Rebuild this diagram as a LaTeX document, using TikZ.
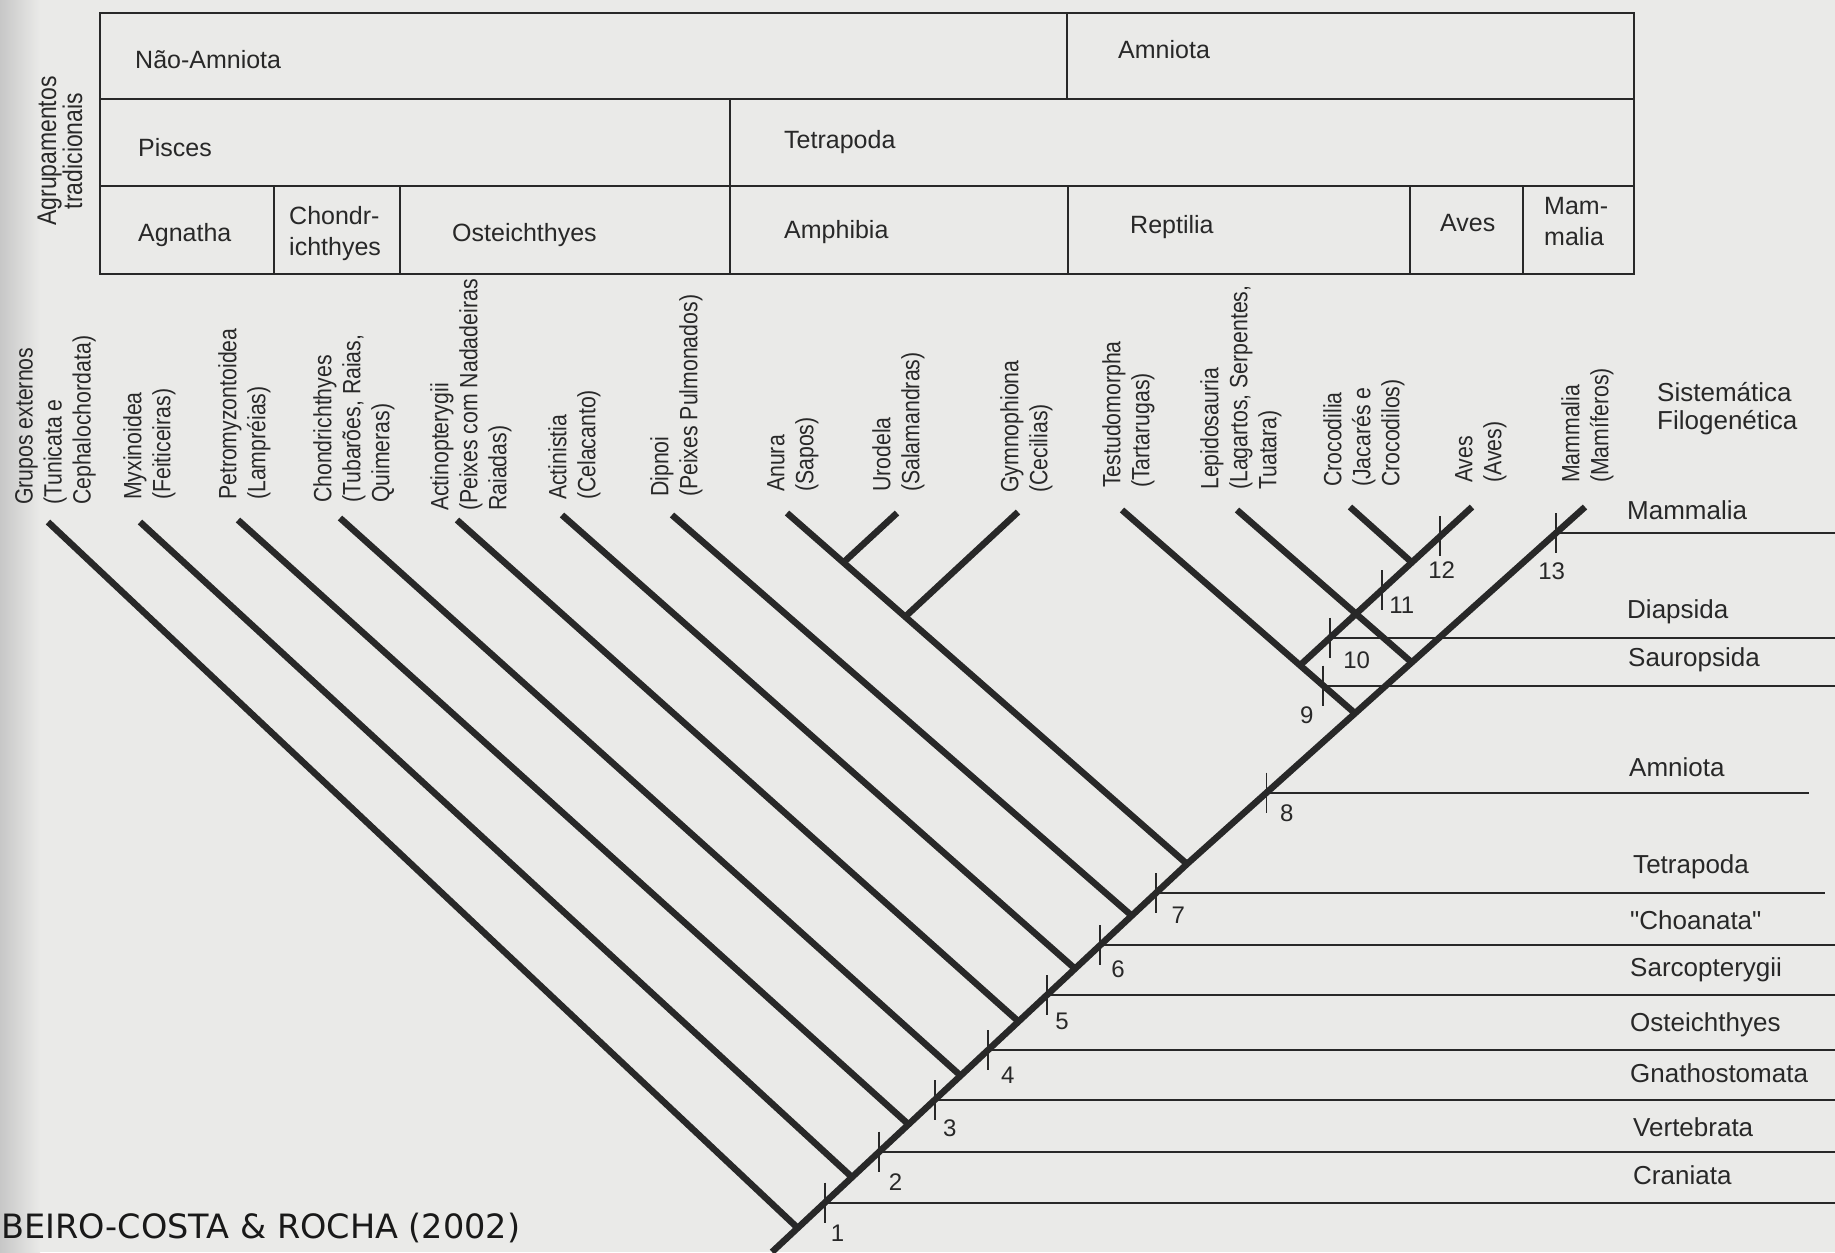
\documentclass[tikz,border=0pt]{standalone}
\usepackage{fontspec}
\setmainfont{Liberation Sans}
\newfontfamily\taxfont[FakeStretch=0.85]{Liberation Sans}
\newfontfamily\citefont{DejaVu Sans}
\usetikzlibrary{calc}

\definecolor{paper}{RGB}{234,234,232}
\definecolor{ink}{RGB}{40,40,40}

\begin{document}
\begin{tikzpicture}[x=1pt,y=-1pt,
  branchline/.style={draw=ink, line width=6.5pt},
  grpline/.style={draw=ink, line width=2pt},
  tickmark/.style={draw=ink, line width=1.8pt},
  tablerule/.style={draw=ink, line width=2.8pt},
  cell/.style={anchor=west, inner sep=0pt, text=ink, align=left, font=\fontsize{25}{31}\selectfont},
  taxon/.style={rotate=90, anchor=north west, inner sep=0pt, align=left, text=ink, font=\taxfont\fontsize{25}{29}\selectfont},
  clade/.style={anchor=west, inner sep=0pt, text=ink, align=left, font=\fontsize{26}{28}\selectfont},
  num/.style={inner sep=0pt, text=ink, font=\fontsize{24}{24}\selectfont}]

	\fill[paper] (0,0) rectangle (1835,1252);
	\useasboundingbox (0,0) rectangle (1835,1252);
	\shade[left color=black!22, right color=paper] (0,0) rectangle (40,1252);

	% traditional groupings
	\draw[tablerule] (100,13) rectangle (1634,274);
	\draw[tablerule] (100,99) -- (1634,99);
	\draw[tablerule] (100,186) -- (1634,186);
	\draw[tablerule] (1067,13) -- (1067,99);
	\draw[tablerule] (730,99) -- (730,274);
	\foreach \xx in {274,400,1068,1410,1523}
		\draw[tablerule] (\xx,186) -- (\xx,274);

	\node[rotate=90, inner sep=0pt, align=center, text=ink, font=\taxfont\fontsize{27}{24}\selectfont] (agrup) at (60,151) {Agrupamentos\\tradicionais};

	\node[cell] (naoamniota) at (135,60) {Não-Amniota};
	\node[cell] (amniota-t) at (1118,50) {Amniota};
	\node[cell] (pisces) at (138,148) {Pisces};
	\node[cell] (tetrapoda-t) at (784,142) {Tetrapoda};
	\node[cell] (agnatha) at (138,235) {Agnatha};
	\node[cell] (chondr-t) at (289,234) {Chondr-\\ichthyes};
	\node[cell] (osteich-t) at (452,235) {Osteichthyes};
	\node[cell] (amphibia) at (784,232) {Amphibia};
	\node[cell] (reptilia) at (1130,227) {Reptilia};
	\node[cell] (aves-t) at (1440,223) {Aves};
	\node[cell] (mammalia-t) at (1544,222) {Mam-\\malia};

	% terminal taxa
	\node[taxon] (lab-out) at (15,505) {Grupos externos\\(Tunicata e\\Cephalochordata)};
	\node[taxon] (lab-myx) at (123,500) {Myxinoidea\\(Feiticeiras)};
	\node[taxon] (lab-pet) at (218,500) {Petromyzontoidea\\(Lampréias)};
	\node[taxon] (lab-cho) at (313,503) {Chondrichthyes\\(Tubarões, Raias,\\Quimeras)};
	\node[taxon] (lab-act) at (430,511) {Actinopterygii\\(Peixes com Nadadeiras\\Raiadas)};
	\node[taxon] (lab-cel) at (548,500) {Actinistia\\(Celacanto)};
	\node[taxon] (lab-dip) at (650,497) {Dipnoi\\(Peixes Pulmonados)};
	\node[taxon] (lab-anu) at (767,492) {Anura\\(Sapos)};
	\node[taxon] (lab-uro) at (872,492) {Urodela\\(Salamandras)};
	\node[taxon] (lab-gym) at (1000,493) {Gymnophiona\\(Cecilias)};
	\node[taxon] (lab-tes) at (1102,488) {Testudomorpha\\(Tartarugas)};
	\node[taxon] (lab-lep) at (1200,490) {Lepidosauria\\(Lagartos, Serpentes,\\Tuatara)};
	\node[taxon] (lab-cro) at (1323,487) {Crocodilia\\(Jacarés e\\Crocodilos)};
	\node[taxon] (lab-ave) at (1455,483) {Aves\\(Aves)};
	\node[taxon] (lab-mam) at (1561,483) {Mammalia\\(Mamíferos)};

	% branch tips
	\coordinate (tip-out) at (48,522);
	\coordinate (tip-myx) at (140,522);
	\coordinate (tip-pet) at (238,520);
	\coordinate (tip-cho) at (340,518);
	\coordinate (tip-act) at (457,520);
	\coordinate (tip-cel) at (562,515);
	\coordinate (tip-dip) at (672,515);
	\coordinate (tip-anu) at (787,513);
	\coordinate (tip-uro) at (897,513);
	\coordinate (tip-gym) at (1018,512);
	\coordinate (tip-tes) at (1122,510);
	\coordinate (tip-lep) at (1237,510);
	\coordinate (tip-cro) at (1350,507);
	\coordinate (tip-ave) at (1472,507);
	\coordinate (tip-mam) at (1585,507);

	% backbone points
	\coordinate (base) at (772,1252);
	\coordinate (n1) at (797.7,1228);
	\coordinate (n2) at (852,1177.2);
	\coordinate (n3) at (908.5,1124.4);
	\coordinate (n4) at (960.6,1075.7);
	\coordinate (n5) at (1018.5,1021.5);
	\coordinate (n6) at (1075,968.7);
	\coordinate (n7) at (1131.7,915.7);
	\coordinate (ntet) at (1187,864);
	\coordinate (namn) at (1355,713.3);
	\coordinate (nlep) at (1411.7,662.4);

	\coordinate (t1) at (824.7,1202.7);
	\coordinate (t2) at (879.3,1151.7);
	\coordinate (t3) at (934.6,1100);
	\coordinate (t4) at (988,1050);
	\coordinate (t5) at (1046.9,995);
	\coordinate (t6) at (1100.3,945);
	\coordinate (t7) at (1155.6,893.3);
	\coordinate (t8) at (1266.5,792.7);
	\coordinate (t13) at (1555.7,533.3);

	\coordinate (nuro) at ($(tip-anu)!0.141!(ntet)$);
	\coordinate (ngym) at ($(tip-anu)!0.2955!(ntet)$);
	\coordinate (nsau) at ($(tip-tes)!0.764!(namn)$);
	\coordinate (t9) at ($(tip-tes)!0.864!(namn)$);
	\coordinate (t10) at ($(nsau)!0.174!(tip-ave)$);
	\coordinate (t11) at ($(nsau)!0.475!(tip-ave)$);
	\coordinate (ncro) at ($(nsau)!0.65!(tip-ave)$);
	\coordinate (t12) at ($(nsau)!0.814!(tip-ave)$);

	\coordinate (edge) at (1835,0);
	\coordinate (edge-amn) at (1809,0);
	\coordinate (edge-tet) at (1825,0);

	% cladogram
	\draw[branchline] (base) -- (ntet) -- (tip-mam);
	\draw[branchline] (tip-out) -- (n1);
	\draw[branchline] (tip-myx) -- (n2);
	\draw[branchline] (tip-pet) -- (n3);
	\draw[branchline] (tip-cho) -- (n4);
	\draw[branchline] (tip-act) -- (n5);
	\draw[branchline] (tip-cel) -- (n6);
	\draw[branchline] (tip-dip) -- (n7);
	\draw[branchline] (tip-anu) -- (ntet);
	\draw[branchline] (tip-uro) -- (nuro);
	\draw[branchline] (tip-gym) -- (ngym);
	\draw[branchline] (tip-tes) -- (namn);
	\draw[branchline] (nsau) -- (tip-ave);
	\draw[branchline] (tip-cro) -- (ncro);
	\draw[branchline] (tip-lep) -- (nlep);

	% groups of phylogenetic systematics
	\draw[grpline] (t1) -- (t1 -| edge);
	\draw[grpline] (t2) -- (t2 -| edge);
	\draw[grpline] (t3) -- (t3 -| edge);
	\draw[grpline] (t4) -- (t4 -| edge);
	\draw[grpline] (t5) -- (t5 -| edge);
	\draw[grpline] (t6) -- (t6 -| edge);
	\draw[grpline] (t7) -- (t7 -| edge-tet);
	\draw[grpline] (t8) -- (t8 -| edge-amn);
	\draw[grpline] (t9) -- (t9 -| edge);
	\draw[grpline] (t10) -- (t10 -| edge);
	\draw[grpline] (t13) -- (t13 -| edge);

	\foreach \t in {t1,t2,t3,t4,t5,t6,t7,t8,t9,t10,t11,t12,t13}
		\draw[tickmark] ([yshift=20pt]\t) -- ([yshift=-20pt]\t);

	\node[num] (c1) at (837.5,1233) {1};
	\node[num] (c2) at (895.5,1181.7) {2};
	\node[num] (c3) at (949.7,1128.3) {3};
	\node[num] (c4) at (1007.7,1075) {4};
	\node[num] (c5) at (1062,1021.7) {5};
	\node[num] (c6) at (1118,969) {6};
	\node[num] (c7) at (1178.3,915) {7};
	\node[num] (c8) at (1286.7,813.3) {8};
	\node[num] (c9) at (1306.7,715) {9};
	\node[num] (c10) at (1356.7,660) {10};
	\node[num] (c11) at (1401.7,605) {11};
	\node[num] (c12) at (1441.7,570) {12};
	\node[num] (c13) at (1551.7,571.7) {13};

	\node[clade] (sistfilo) at (1657,409) {Sistemática\\Filogenética};
	\node[clade] (mammalia) at (1627,510) {Mammalia};
	\node[clade] (diapsida) at (1627,612) {Diapsida};
	\node[clade] (sauropsida) at (1628,660) {Sauropsida};
	\node[clade] (amniota) at (1629,767) {Amniota};
	\node[clade] (tetrapoda) at (1633,867) {Tetrapoda};
	\node[clade] (choanata) at (1630,920) {\textquotedbl Choanata\textquotedbl};
	\node[clade] (sarcopt) at (1630,970) {Sarcopterygii};
	\node[clade] (osteich) at (1630,1025) {Osteichthyes};
	\node[clade] (gnatho) at (1630,1073) {Gnathostomata};
	\node[clade] (vertebrata) at (1633,1127) {Vertebrata};
	\node[clade] (craniata) at (1633,1175) {Craniata};

	\node[anchor=base west, inner sep=0pt, text=black!90, font=\citefont\fontsize{33.5}{34}\selectfont] (cite) at (1,1238) {BEIRO-COSTA \& ROCHA (2002)};

\end{tikzpicture}
\end{document}
